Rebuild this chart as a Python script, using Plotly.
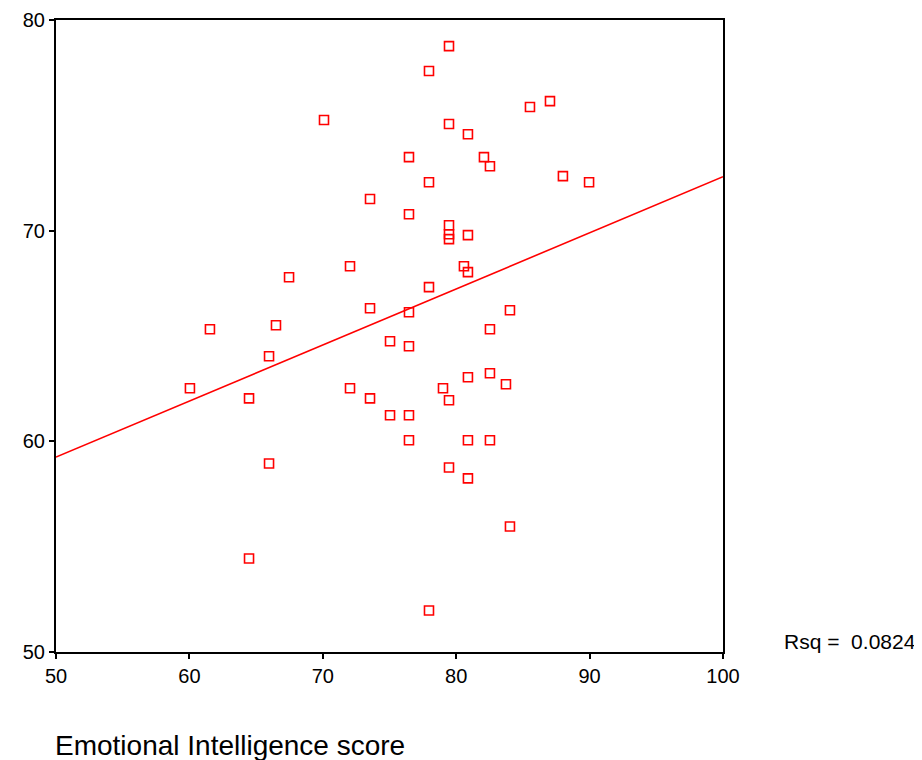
import plotly.graph_objects as go

# Emotional Intelligence score (x) vs. outcome score (y)
ei_score = [79.46, 77.96, 70.09, 79.46, 80.88, 85.53, 87.03, 76.46, 82.08, 82.53,
            77.96, 88.00, 89.96, 73.54, 76.46, 79.46, 79.46, 79.46, 80.88, 72.04,
            80.58, 80.88, 67.47, 77.96, 73.54, 76.46, 84.03, 61.54, 66.49, 82.53,
            75.04, 76.46, 65.97, 60.04, 72.04, 79.01, 64.47, 73.54, 79.46, 80.88,
            82.53, 83.73, 75.04, 76.46, 76.46, 80.88, 82.53, 65.97, 79.46, 80.88,
            84.03, 64.47, 77.96]
outcome = [78.76, 77.58, 75.25, 75.06, 74.58, 75.87, 76.15, 73.49, 73.49, 73.06,
           72.30, 72.59, 72.30, 71.50, 70.78, 70.26, 69.83, 69.60, 69.79, 68.31,
           68.31, 68.03, 67.79, 67.32, 66.32, 66.13, 66.22, 65.32, 65.51, 65.32,
           64.75, 64.51, 64.04, 62.52, 62.52, 62.52, 62.04, 62.04, 61.95, 63.04,
           63.23, 62.71, 61.24, 61.24, 60.05, 60.05, 60.05, 58.95, 58.76, 58.24,
           55.96, 54.44, 51.97]

# Linear fit line (ends)
fit_x = [50, 100]
fit_y = [59.25, 72.56]
rsq_label = "Rsq =  0.0824"

x_ticks = [50, 60, 70, 80, 90, 100]
y_ticks = [50, 60, 70, 80]

fig = go.Figure()
fig.add_trace(go.Scatter(
    x=fit_x, y=fit_y, mode="lines",
    line=dict(color="#ff0000", width=1.6),
    showlegend=False, hoverinfo="skip"))
fig.add_trace(go.Scatter(
    x=ei_score, y=outcome, mode="markers",
    marker=dict(symbol="square-open", size=9, color="#ff0000",
                line=dict(width=1.6, color="#ff0000")),
    showlegend=False))

axis_common = dict(showline=True, linecolor="black", linewidth=2, mirror=True,
                   ticks="outside", ticklen=5, tickwidth=1.5, tickcolor="black",
                   showgrid=False, zeroline=False, automargin=False,
                   tickfont=dict(family="Liberation Sans, Arial", size=20, color="black"))

fig.update_xaxes(range=[50, 100], tickvals=x_ticks, **axis_common)
fig.update_yaxes(range=[50, 80], tickvals=y_ticks, **axis_common)

# plot area: 667 x 632 px
fig.add_annotation(text=rsq_label, xref="paper", yref="paper",
                   x=(918 - 56) / 667, y=(652 - 641) / 632,
                   xanchor="right", yanchor="middle", showarrow=False,
                   font=dict(family="Liberation Sans, Arial", size=21, color="black"))
fig.add_annotation(text="Emotional Intelligence score", xref="paper", yref="paper",
                   x=(53 - 56) / 667, y=(652 - 745) / 632,
                   xanchor="left", yanchor="middle", showarrow=False,
                   font=dict(family="Liberation Sans, Arial", size=28, color="black"))

# page body has an 8px default margin, so the figure is 8px smaller
fig.update_layout(width=914, height=752, autosize=False,
                  margin=dict(l=48, r=199, t=12, b=108),
                  paper_bgcolor="white", plot_bgcolor="white")

fig.write_html("out.html")
